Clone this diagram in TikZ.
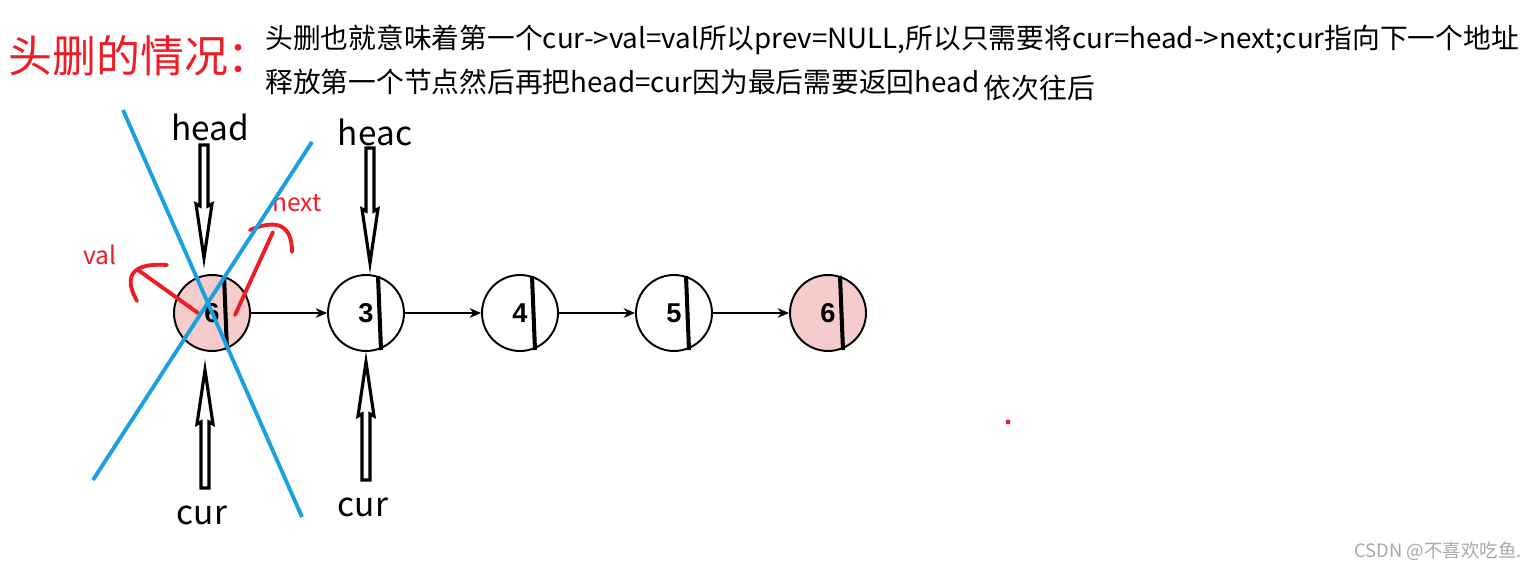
\documentclass[tikz,border=0pt]{standalone}
\usepackage{fontspec}
\setmainfont{Noto Sans CJK SC}
\newfontfamily\numfont{Liberation Sans}
\usetikzlibrary{arrows.meta,calc}
\definecolor{markred}{HTML}{EE1C25}
\definecolor{crossblue}{HTML}{1AA0DE}
\definecolor{nodepink}{HTML}{F4CCCC}
\definecolor{markgray}{HTML}{A8A8A8}
\begin{document}
\begin{tikzpicture}[x=0.02cm,y=-0.02cm,>={Stealth[length=6.5pt,width=5.5pt]}]
  \tikzset{
    lnode/.style={draw, circle, line width=1.1pt, minimum size=1.52cm, inner sep=0pt, font=\numfont\bfseries\fontsize{15.5}{18}\selectfont},
    ptr/.style={font=\fontsize{19}{22}\selectfont, inner sep=0pt},
    note/.style={font=\fontsize{15.8}{18}\selectfont, inner sep=0pt, anchor=west},
    redpen/.style={markred, line width=2.2pt, line cap=round},
    cross/.style={crossblue, line width=2.2pt},
    hollowarrow/.pic={
      \draw[line width=1.8pt, fill=white, line join=miter]
        (0,0) -- (-8,-54) -- (-4,-52) -- (-4,-#1) -- (4,-#1) -- (4,-52) -- (8,-54) -- cycle;}
  }
  \useasboundingbox (0,0) rectangle (1538,570);
  % title and explanation
  \node[note, markred, font=\fontsize{25}{28}\selectfont] (title) at (8,56) {头删的情况：};
  \node[note] (l1) at (265,40) {头删也就意味着第一个cur->val=val所以prev=NULL,所以只需要将cur=head->next;cur指向下一个地址};
  \node[note] (l2) at (265,82) {释放第一个节点然后再把head=cur因为最后需要返回head};
  \node[note] (l3) at ($(l2.east)+(4,6)$) {依次往后};
  % list
  \foreach \i/\v/\c/\x in {1/6/nodepink/212, 2/3/white/366, 3/4/white/520, 4/5/white/674, 5/6/nodepink/828} {
    \node[lnode, fill=\c] (n\i) at (\x,313) {\v};
    \draw[line width=2.3pt] ($(n\i.center)+(12,-37)$) -- ($(n\i.center)+(15,37)$);
  }
  \foreach \a/\b in {1/2, 2/3, 3/4, 4/5}
    \draw[->, line width=0.9pt] (n\a) -- (n\b);
  % pointers
  \node[ptr] (head) at (210,127) {head};
  \node[ptr] (heac) at (375,132) {heac};
  \node[ptr] (cur1) at (202,515) {cur};
  \node[ptr] (cur2) at (363,507) {cur};
  \coordinate (t1) at (204,258);
  \coordinate (t2) at (370,263);
  \coordinate (t3) at (205,370);
  \coordinate (t4) at (366,362);
  \pic at (t1) {hollowarrow=113};
  \pic at (t2) {hollowarrow=115};
  \pic[rotate=180] at (t3) {hollowarrow=118};
  \pic[rotate=180] at (t4) {hollowarrow=118};
  % red marks
  \node[markred, font=\fontsize{14}{16}\selectfont, inner sep=0pt] (val) at (100,255) {val};
  \node[markred, font=\fontsize{14}{16}\selectfont, inner sep=0pt] (next) at (297,203) {next};
  \draw[redpen] (198,313) -- (138,270);
  \draw[redpen] (167,265) .. controls (122,262) and (128,285) .. (137,301);
  \draw[redpen] (235,315) -- (273,232);
  \draw[redpen] (250,230) .. controls (276,219) and (292,224) .. (292,252);
  \fill[markred] (1008,422) circle (2.5);
  % cross out
  \draw[cross] (123,110) -- (302,517);
  \draw[cross] (312,142) -- (93,480);
  \node[markgray, font=\fontsize{10.5}{12}\selectfont, inner sep=0pt, anchor=east] (mark) at (1522,551) {CSDN @不喜欢吃鱼.};
\end{tikzpicture}
\end{document}
